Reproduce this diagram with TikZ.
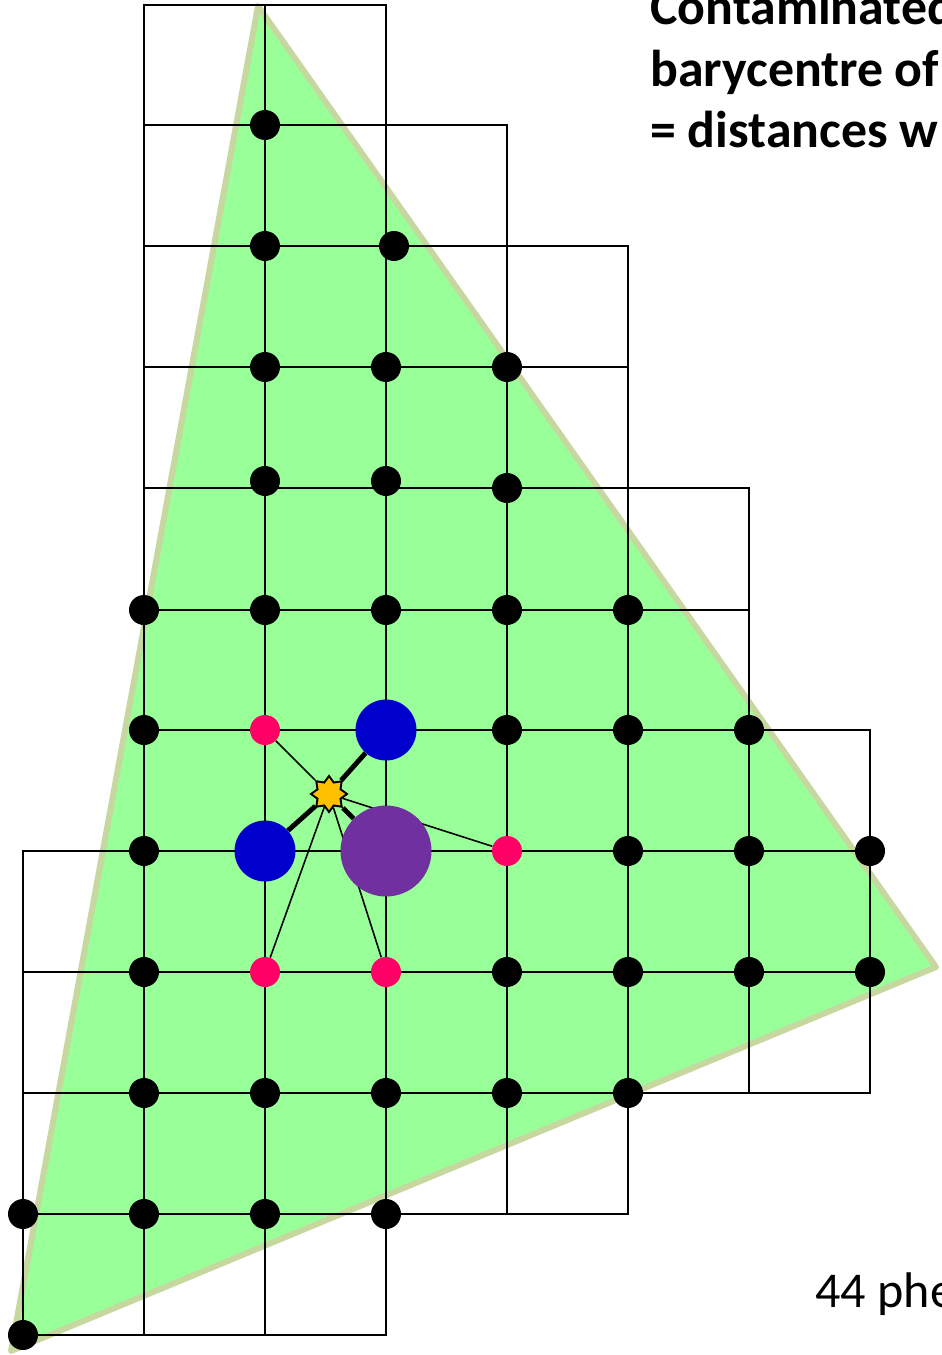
\documentclass[tikz,border=0pt]{standalone}
\usepackage{fontspec}
\setmainfont{Carlito}
\usetikzlibrary{shapes.geometric}

\pgfdeclarelayer{hinten}
\pgfdeclarelayer{mitte}
\pgfsetlayers{hinten,mitte,main}

\definecolor{dreieck}{RGB}{153,255,153}
\definecolor{dreieckrand}{RGB}{198,216,160}
\definecolor{rosa}{RGB}{255,0,102}
\definecolor{blau}{RGB}{0,0,204}
\definecolor{lila}{RGB}{112,48,160}
\definecolor{sterngelb}{RGB}{255,192,0}

\begin{document}
\begin{tikzpicture}[x=0.02cm, y=-0.02cm]

	% Stile
	\tikzset{every node/.style={font=\fontsize{28.5pt}{34pt}\selectfont},
		titel/.style={anchor=base west, inner sep=0pt, font=\bfseries\fontsize{29.5pt}{35pt}\selectfont},
		punkt/.style={circle, fill=black, inner sep=0pt, minimum size=0.6cm},
		rosapunkt/.style={punkt, fill=rosa},
		blaupunkt/.style={punkt, fill=blau, minimum size=1.22cm},
		lilapunkt/.style={punkt, fill=lila, minimum size=1.82cm},
		gitter/.style={line width=1.6pt, line cap=rect},
		duenn/.style={line width=0.9pt},
		dick/.style={line width=2.8pt}}

	\useasboundingbox (0,0) rectangle (942,1355);

	% Text
	\node[titel] (titel1) at (650,25) {Contaminated};
	\node[titel] (titel2) at (650,87) {barycentre of};
	\node[titel] (titel3) at (650,148) {= distances w};
	\node[anchor=base west, inner sep=0pt] (anzahl) at (815,1307) {44 phe};

	% schwarze Punkte
	\foreach \x/\y [count=\i] in {265/125,
		265/246, 394/246,
		265/367, 386/367, 507/367,
		265/481, 386/481, 507/488,
		144/610, 265/610, 386/610, 507/610, 628/610,
		144/730, 507/730, 628/730, 749/730,
		144/851, 628/851, 749/851, 870/851,
		144/972, 507/972, 628/972, 749/972, 870/972,
		144/1093, 265/1093, 386/1093, 507/1093, 628/1093,
		23/1214, 144/1214, 265/1214, 386/1214,
		23/1335}
		\node[punkt] (p\i) at (\x,\y) {};

	% rosa Punkte (Nachbarn)
	\node[rosapunkt] (r1) at (265,730) {};
	\node[rosapunkt] (r2) at (507,851) {};
	\node[rosapunkt] (r3) at (265,972) {};
	\node[rosapunkt] (r4) at (386,972) {};

	% grosse Punkte
	\node[blaupunkt] (b1) at (386,730) {};
	\node[blaupunkt] (b2) at (265,851) {};
	\node[lilapunkt] (l1) at (386,851) {};

	% Schwerpunkt
	\node[star, star points=8, star point ratio=1.45, minimum size=0.72cm, inner sep=0pt,
		fill=sterngelb, draw=black, line width=1.1pt] (stern) at (329,794) {};

	% Abstaende
	\begin{pgfonlayer}{mitte}
		\foreach \n in {r1,r2,r3,r4}
			\draw[duenn] (stern) -- (\n);
		\foreach \n in {b1,b2,l1}
			\draw[dick] (stern) -- (\n);
	\end{pgfonlayer}

	\begin{pgfonlayer}{hinten}
		% Dreieck
		\filldraw[fill=dreieck, draw=dreieckrand, line width=3.4pt, line join=round]
		(258,6) -- (936,967) -- (11,1351) -- cycle;

		% Gitter waagrecht
		\foreach \y/\a/\b in {5/144/386, 125/144/507, 246/144/628, 367/144/628,
			488/144/749, 610/144/749, 730/144/870, 851/23/870, 972/23/870,
			1093/23/870, 1214/23/628, 1335/23/386}
			\draw[gitter] (\a,\y) -- (\b,\y);

		% Gitter senkrecht
		\foreach \x/\a/\b in {23/851/1335, 144/5/1335, 265/5/1335, 386/5/1335,
			507/125/1214, 628/246/1214, 749/488/1093, 870/730/1093}
			\draw[gitter] (\x,\a) -- (\x,\b);
	\end{pgfonlayer}

\end{tikzpicture}
\end{document}
